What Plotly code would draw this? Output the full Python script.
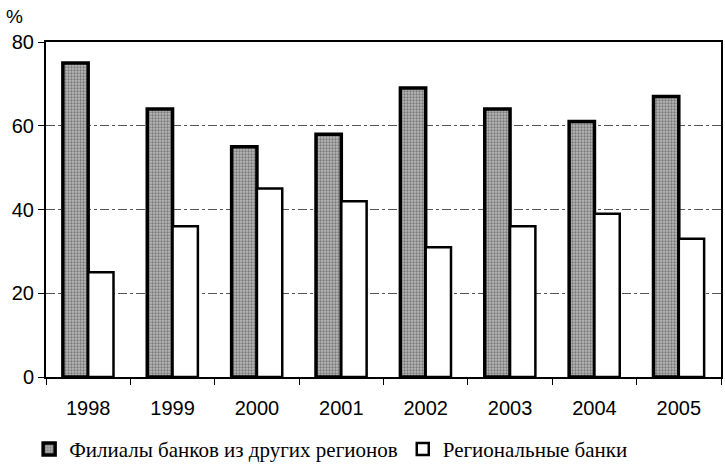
import plotly.graph_objects as go

years = ["1998", "1999", "2000", "2001", "2002", "2003", "2004", "2005"]
branches = [75, 64, 55, 58, 69, 64, 61, 67]
regional = [25, 36, 45, 42, 31, 36, 39, 33]
y_ticks = [0, 20, 40, 60, 80]

fig = go.Figure()
fig.add_trace(go.Bar(
    x=years, y=branches, name="Филиалы банков из других регионов",
    marker=dict(color="#999999", line=dict(color="black", width=3.5),
                pattern=dict(shape=".", fgcolor="#3a3a3a", bgcolor="#b8b8b8", size=3, solidity=0.45)),
))
fig.add_trace(go.Bar(
    x=years, y=regional, name="Региональные банки",
    marker=dict(color="white", line=dict(color="black", width=2.5)),
))

fig.update_layout(
    width=725, height=472,
    margin=dict(l=46, r=2, t=42, b=95),
    plot_bgcolor="white", paper_bgcolor="white",
    barmode="group", bargap=0.4, bargroupgap=0.0,
    font=dict(family="Liberation Sans, Arial", size=20, color="black"),
    showlegend=True,
    legend=dict(orientation="h", x=-0.025, xanchor="left", y=-0.155, yanchor="top",
                font=dict(family="Liberation Serif, Times New Roman", size=21),
                itemwidth=30, traceorder="normal"),
    annotations=[dict(text="%", xref="paper", yref="paper", x=-0.046, y=1.075,
                      xanchor="center", yanchor="middle", showarrow=False,
                      font=dict(size=19))],
)
fig.update_xaxes(
    type="category", showline=True, linecolor="black", linewidth=2, mirror=True,
    ticks="outside", tickson="boundaries", ticklen=6, tickcolor="black",
    ticklabelstandoff=12,
    showgrid=False, tickfont=dict(size=20),
)
fig.update_yaxes(
    range=[0, 80], tickvals=y_ticks, showline=True, linecolor="black", linewidth=2,
    mirror=True, ticks="outside", ticklen=6, tickcolor="black",
    showgrid=True, gridcolor="#555555", griddash="dashdot", gridwidth=1,
    zeroline=False, tickfont=dict(size=20),
)

fig.write_html("out.html", config={"displayModeBar": False},
               post_script="document.body.style.margin='0';document.body.style.overflow='hidden';")
